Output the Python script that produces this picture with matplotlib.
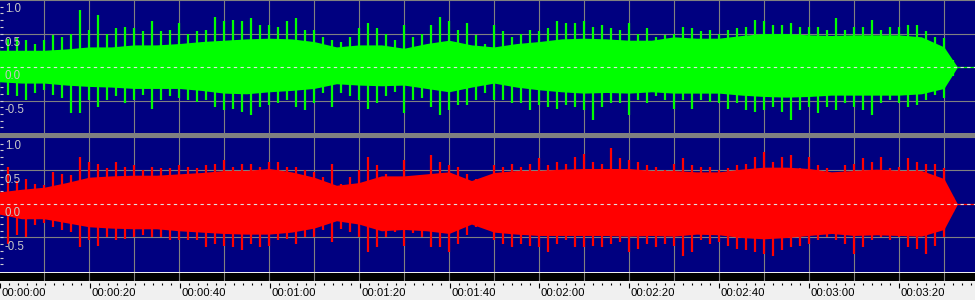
import numpy as np
import matplotlib.pyplot as plt
from matplotlib.patches import Rectangle

# peak envelope, sampled every 2 s (seconds -> amplitude)
peak_t = list(range(0, 213, 2))
left_top = [0.32, 0.42, 0.43, 0.40, 0.35, 0.40, 0.48, 0.45, 0.50, 0.85,
            0.55, 0.78, 0.50, 0.58, 0.60, 0.58, 0.53, 0.68, 0.53, 0.55,
            0.65, 0.50, 0.53, 0.55, 0.75, 0.68, 0.70, 0.68, 0.73, 0.63,
            0.63, 0.60, 0.68, 0.73, 0.55, 0.55, 0.45, 0.40, 0.38, 0.45,
            0.58, 0.65, 0.58, 0.50, 0.40, 0.63, 0.45, 0.50, 0.63, 0.75,
            0.68, 0.55, 0.65, 0.48, 0.35, 0.63, 0.53, 0.45, 0.50, 0.55,
            0.53, 0.58, 0.68, 0.65, 0.65, 0.68, 0.60, 0.63, 0.58, 0.55,
            0.65, 0.50, 0.58, 0.45, 0.48, 0.50, 0.60, 0.58, 0.53, 0.55,
            0.50, 0.55, 0.58, 0.60, 0.70, 0.68, 0.63, 0.63, 0.65, 0.60,
            0.60, 0.60, 0.55, 0.73, 0.55, 0.60, 0.60, 0.70, 0.55, 0.60,
            0.60, 0.63, 0.63, 0.53, 0.45, 0.43, 0.10]
left_bot = [-0.37, -0.42, -0.44, -0.49, -0.39, -0.34, -0.42, -0.47, -0.69, -0.69,
            -0.49, -0.59, -0.49, -0.44, -0.54, -0.49, -0.42, -0.62, -0.49, -0.44,
            -0.47, -0.49, -0.52, -0.49, -0.59, -0.64, -0.62, -0.67, -0.72, -0.59,
            -0.57, -0.54, -0.49, -0.59, -0.64, -0.54, -0.39, -0.59, -0.39, -0.44,
            -0.49, -0.62, -0.54, -0.44, -0.37, -0.69, -0.49, -0.47, -0.59, -0.72,
            -0.64, -0.57, -0.57, -0.49, -0.39, -0.49, -0.49, -0.54, -0.54, -0.64,
            -0.57, -0.59, -0.62, -0.57, -0.59, -0.64, -0.79, -0.59, -0.54, -0.54,
            -0.72, -0.49, -0.54, -0.44, -0.49, -0.62, -0.49, -0.62, -0.49, -0.52,
            -0.54, -0.62, -0.54, -0.64, -0.67, -0.64, -0.59, -0.67, -0.79, -0.64,
            -0.59, -0.69, -0.59, -0.64, -0.54, -0.59, -0.64, -0.72, -0.54, -0.49,
            -0.54, -0.59, -0.57, -0.49, -0.42, -0.47, -0.14]
right_top = [0.25, 0.55, 0.35, 0.38, 0.30, 0.28, 0.48, 0.45, 0.43, 0.70,
             0.63, 0.60, 0.53, 0.63, 0.55, 0.58, 0.50, 0.55, 0.53, 0.53,
             0.58, 0.55, 0.53, 0.58, 0.60, 0.65, 0.55, 0.60, 0.60, 0.55,
             0.63, 0.63, 0.55, 0.55, 0.50, 0.48, 0.40, 0.60, 0.30, 0.40,
             0.50, 0.70, 0.58, 0.45, 0.40, 0.65, 0.35, 0.43, 0.73, 0.63,
             0.58, 0.55, 0.45, 0.38, 0.30, 0.58, 0.55, 0.60, 0.55, 0.60,
             0.68, 0.58, 0.63, 0.60, 0.70, 0.75, 0.63, 0.60, 0.83, 0.68,
             0.65, 0.63, 0.58, 0.55, 0.50, 0.60, 0.68, 0.58, 0.55, 0.55,
             0.50, 0.53, 0.58, 0.60, 0.70, 0.78, 0.63, 0.70, 0.73, 0.53,
             0.70, 0.58, 0.53, 0.45, 0.58, 0.60, 0.68, 0.63, 0.70, 0.53,
             0.55, 0.68, 0.63, 0.60, 0.60, 0.53, 0.10]
right_bot = [-0.19, -0.59, -0.47, -0.49, -0.32, -0.29, -0.34, -0.39, -0.42, -0.64,
             -0.54, -0.62, -0.49, -0.54, -0.52, -0.49, -0.47, -0.49, -0.49, -0.54,
             -0.54, -0.54, -0.54, -0.64, -0.59, -0.62, -0.64, -0.69, -0.59, -0.64,
             -0.62, -0.54, -0.52, -0.59, -0.49, -0.49, -0.39, -0.57, -0.37, -0.42,
             -0.49, -0.72, -0.64, -0.49, -0.42, -0.62, -0.44, -0.49, -0.64, -0.64,
             -0.72, -0.59, -0.47, -0.34, -0.34, -0.54, -0.59, -0.64, -0.59, -0.62,
             -0.64, -0.72, -0.59, -0.54, -0.64, -0.64, -0.62, -0.64, -0.59, -0.57,
             -0.72, -0.67, -0.59, -0.64, -0.59, -0.62, -0.77, -0.72, -0.54, -0.59,
             -0.57, -0.62, -0.67, -0.69, -0.72, -0.74, -0.77, -0.69, -0.64, -0.62,
             -0.59, -0.54, -0.49, -0.54, -0.59, -0.74, -0.64, -0.54, -0.49, -0.54,
             -0.49, -0.64, -0.67, -0.74, -0.62, -0.49, -0.12]

# dense body of the waveform, every 5 s, ends at 213 s
body_t = list(range(0, 211, 5)) + [213]
left_body_top = [0.25, 0.25, 0.25, 0.27, 0.30, 0.30, 0.33, 0.33, 0.35, 0.38,
                 0.40, 0.42, 0.43, 0.42, 0.38, 0.30, 0.33, 0.33, 0.28, 0.35,
                 0.40, 0.33, 0.30, 0.35, 0.38, 0.42, 0.43, 0.42, 0.40, 0.40,
                 0.45, 0.43, 0.43, 0.47, 0.50, 0.50, 0.48, 0.47, 0.48, 0.48,
                 0.48, 0.45, 0.30, 0.0]
left_body_bot = [-0.22, -0.24, -0.24, -0.27, -0.29, -0.30, -0.32, -0.32, -0.32, -0.35,
                 -0.39, -0.40, -0.37, -0.35, -0.32, -0.25, -0.27, -0.28, -0.27, -0.32,
                 -0.37, -0.30, -0.24, -0.30, -0.34, -0.37, -0.39, -0.38, -0.39, -0.37,
                 -0.39, -0.39, -0.39, -0.42, -0.44, -0.45, -0.44, -0.42, -0.42, -0.42,
                 -0.42, -0.40, -0.32, 0.0]
right_body_top = [0.18, 0.22, 0.25, 0.32, 0.40, 0.42, 0.43, 0.43, 0.45, 0.47,
                  0.50, 0.50, 0.53, 0.48, 0.40, 0.28, 0.32, 0.42, 0.42, 0.45,
                  0.48, 0.35, 0.47, 0.50, 0.50, 0.52, 0.53, 0.53, 0.53, 0.50,
                  0.50, 0.48, 0.48, 0.52, 0.55, 0.55, 0.53, 0.48, 0.50, 0.52,
                  0.50, 0.50, 0.38, 0.0]
right_body_bot = [-0.15, -0.22, -0.22, -0.28, -0.34, -0.36, -0.37, -0.37, -0.40, -0.42,
                  -0.44, -0.45, -0.45, -0.42, -0.36, -0.25, -0.30, -0.40, -0.38, -0.40,
                  -0.44, -0.30, -0.42, -0.45, -0.47, -0.47, -0.47, -0.47, -0.48, -0.47,
                  -0.48, -0.45, -0.46, -0.50, -0.52, -0.50, -0.47, -0.44, -0.47, -0.46,
                  -0.47, -0.48, -0.38, 0.0]

end_t = 213
amp_ticks = [1.0, 0.5, 0.0, -0.5]
amp_labels = ['1.0', '0.5', '0.0', '-0.5']
time_ticks = list(range(0, 201, 20))
time_labels = ['00:00:00', '00:00:20', '00:00:40', '00:01:00', '00:01:20', '00:01:40',
               '00:02:00', '00:02:20', '00:02:40', '00:03:00', '00:03:20']

W, H = 975, 300
XMIN, XMAX = 0.22, 216.9
NAVY = '#000080'
GRID = '#808080'
plt.rcParams['font.family'] = ['Liberation Sans', 'DejaVu Sans']

fig = plt.figure(figsize=(W / 100, H / 100), dpi=100, facecolor='#f0f0f0')


def box(y0, y1):
    # pixel rows (from top) -> figure fraction rect
    return [0, 1 - y1 / H, 1, (y1 - y0) / H]


# gray separator between channels
fig.add_artist(Rectangle((0, 1 - 137 / H), 1, 4 / H, transform=fig.transFigure,
                         color=GRID, lw=0))


def draw_channel(ax, top, bot, btop, bbot, color, ylim):
    ax.set_facecolor(NAVY)
    ax.set_xlim(XMIN, XMAX)
    ax.set_ylim(*ylim)
    for s in range(10, 217, 10):
        ax.axvline(s, color=GRID, lw=0.8, zorder=1)
    for v in (1.0, 0.5, -0.5):
        ax.axhline(v, color=GRID, lw=0.8, zorder=1)
    ax.fill_between(body_t, bbot, btop, color=color, lw=0, zorder=2)
    ax.vlines(peak_t, bot, top, color=color, lw=1.6, zorder=2)
    ax.plot([end_t, XMAX], [0, 0], color=color, lw=0.9, zorder=2)
    ax.axhline(0, color='#e0e0e0', lw=0.8, dashes=(3, 3), zorder=3)
    for v, lab in zip(amp_ticks, amp_labels):
        ax.text(1.3, v - 0.045, lab, color='#c8c8c8', fontsize=8.3,
                ha='left', va='top', zorder=4)
    ax.set_xticks([])
    ax.set_yticks(np.arange(-0.9, 1.0, 0.1))
    ax.tick_params(axis='y', direction='in', length=2.5, width=0.8,
                   colors='#d0d0d0', labelleft=False)
    for sp in ax.spines.values():
        sp.set_visible(False)


ax1 = fig.add_axes(box(0, 133))
draw_channel(ax1, left_top, left_bot, left_body_top, left_body_bot, '#00ff00', (-0.985, 1.0))

ax2 = fig.add_axes(box(137, 272))
draw_channel(ax2, right_top, right_bot, right_body_top, right_body_bot, '#ff0000', (-1.015, 1.0))

# black strip under the waveform
axb = fig.add_axes(box(273, 281))
axb.set_facecolor('black')
axb.set_xlim(XMIN, XMAX)
for s in range(10, 217, 10):
    axb.axvline(s, color=GRID, lw=0.8)
axb.set_xticks([])
axb.set_yticks([])
for sp in axb.spines.values():
    sp.set_visible(False)

# time ruler
axt = fig.add_axes(box(283, 300))
axt.set_facecolor('#f0f0f0')
axt.set_xlim(XMIN, XMAX)
axt.set_ylim(0, 1)
axt.xaxis.tick_top()
axt.set_xticks(time_ticks)
axt.set_xticks(range(0, 217, 2), minor=True)
axt.tick_params(axis='x', which='major', direction='in', length=3.4, width=0.8,
                color='black', labeltop=False, labelbottom=False)
axt.tick_params(axis='x', which='minor', direction='in', length=1.5, width=0.8,
                color='black')
axt.set_yticks([])
for s, lab in zip(time_ticks, time_labels):
    axt.text(s + 0.35, 0.4, lab, fontsize=8.2, color='black', ha='left', va='center')
for sp in axt.spines.values():
    sp.set_visible(False)

plt.savefig('out.png', dpi=100, facecolor=fig.get_facecolor())
